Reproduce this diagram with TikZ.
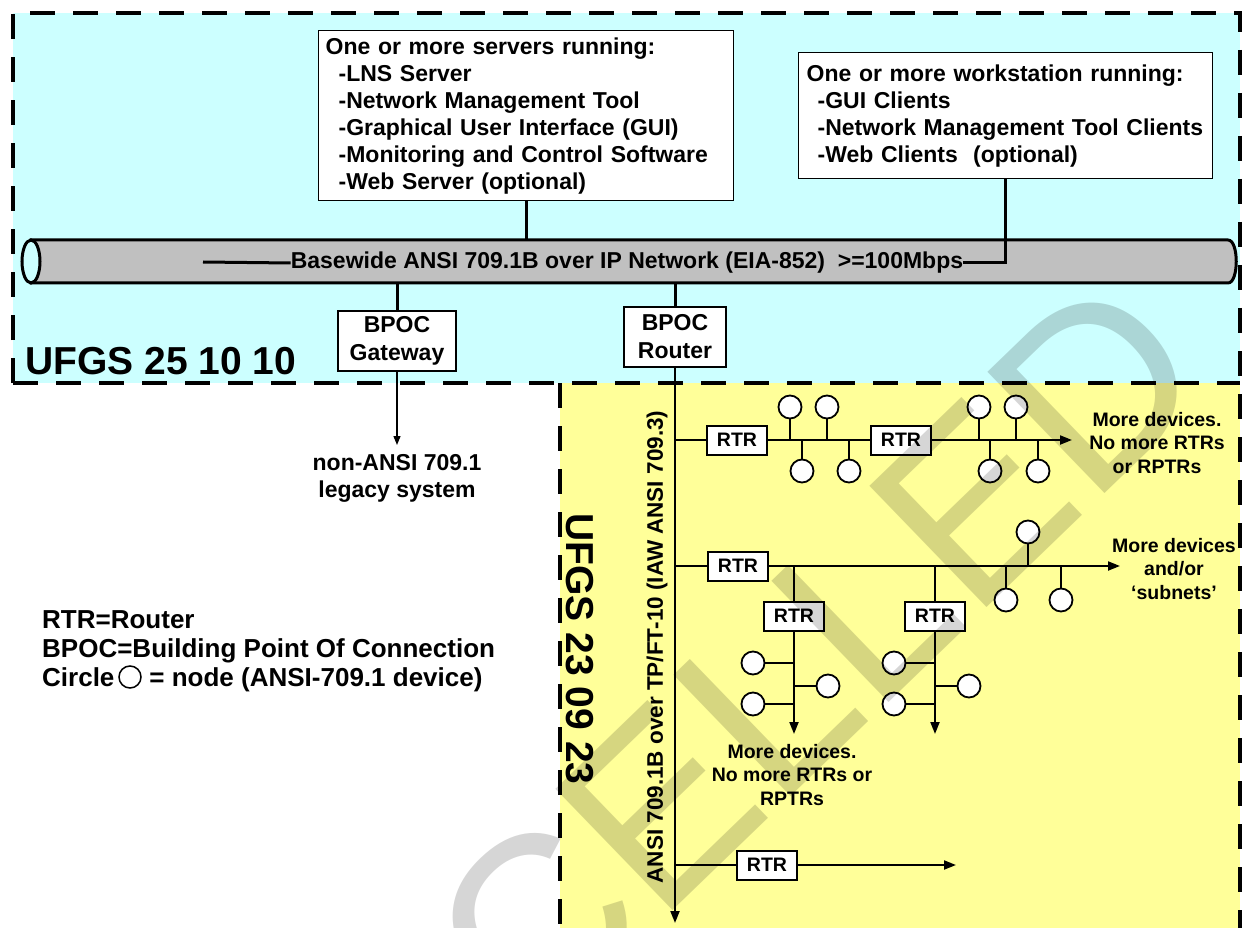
\documentclass[tikz,border=0pt]{standalone}
\usepackage{fontspec}
\setmainfont{Liberation Sans}
\usetikzlibrary{arrows.meta}
\definecolor{cyanbg}{RGB}{204,255,255}
\definecolor{yellowbg}{RGB}{255,255,153}
\definecolor{cylgray}{RGB}{192,192,192}
\begin{document}
\begin{tikzpicture}[x=1pt,y=-1pt,
  ftxt/.style={font=\fontsize{23}{27}\selectfont\bfseries},
  fsmall/.style={font=\fontsize{19.5}{23.5}\selectfont\bfseries},
  lbox/.style={draw, line width=1.3pt, fill=white, align=left, anchor=north west, inner ysep=0pt, ftxt},
  bpoc/.style={draw, line width=1.5pt, fill=white, align=center, minimum height=60pt, inner sep=0pt, font=\fontsize{23}{28}\selectfont\bfseries},
  rtr/.style={draw, line width=2pt, fill=white, minimum width=60pt, minimum height=29pt, inner sep=0pt, fsmall},
  dev/.style={circle, draw, line width=1.8pt, fill=white, minimum size=23pt, inner sep=0pt},
  bord/.style={line width=4.5pt, dash pattern=on 25pt off 18pt},
  thickln/.style={line width=3pt},
  ln/.style={line width=2pt},
  arr/.style={-{Triangle[length=12pt,width=9pt]}},
  sarr/.style={-{Triangle[length=9pt,width=7pt]}},
]
\useasboundingbox (0,0) rectangle (1243,928);
\clip (0,0) rectangle (1243,928);
\fill[white] (0,0) rectangle (1243,928);

% regions
\fill[cyanbg] (13,13) rectangle (1240,383);
\fill[yellowbg] (560,383) rectangle (1240,928);
\draw[bord] (13,383) -- (13,13) -- (1240,13) -- (1240,928);
\draw[bord] (13,383) -- (1240,383);
\draw[bord] (560,383) -- (560,928);

% labels of the regions
\node[font=\fontsize{39}{39}\selectfont\bfseries, anchor=west, inner sep=0pt] (ufgsA) at (25,361) {UFGS 25 10 10};
\node[font=\fontsize{39}{39}\selectfont\bfseries, rotate=-90, inner sep=0pt] (ufgsB) at (580,649) {UFGS 23 09 23};

% backbone cylinder
\draw[thickln, fill=cylgray] (31,240) -- (1228,240) .. controls (1239,240) and (1239,283) .. (1228,283) -- (31,283) -- cycle;
\draw[thickln, fill=cyanbg] (31,261.5) ellipse [x radius=9, y radius=21.5];
\node[ftxt, inner sep=0pt] (net) at (627,263) {Basewide ANSI 709.1B over IP Network (EIA-852)~ >=100Mbps};
\coordinate (netw) at (203,262);

% servers and workstations
\node[lbox, text width=401pt, inner xsep=7pt, minimum height=170pt] (srv) at (318,30)
 {One or more servers running:\\
  \hspace*{13pt}-LNS Server\\
  \hspace*{13pt}-Network Management Tool\\
  \hspace*{13pt}-Graphical User Interface (GUI)\\
  \hspace*{13pt}-Monitoring and Control Software\\
  \hspace*{13pt}-Web Server (optional)};
\node[lbox, text width=398pt, inner xsep=8pt, minimum height=126pt] (ws) at (798,52)
 {One or more workstation running:\\
  \hspace*{11pt}-GUI Clients\\
  \hspace*{11pt}-Network Management Tool Clients\\
  \hspace*{11pt}-Web Clients~ (optional)};

\draw[thickln] (netw) -- (net.west);
\draw[thickln] (net.east) -| (ws.south);
\draw[thickln] (srv.south) -- ++(0,40);

% BPOC boxes
\node[bpoc, minimum width=118pt] (gw) at (397,341) {BPOC\\Gateway};
\node[bpoc, minimum width=102pt] (rt) at (675,337) {BPOC\\Router};
\draw[thickln] (gw.north) -- ++(0,-28);
\draw[thickln] (rt.north) -- ++(0,-24);

\coordinate (legtip) at (397,445);
\draw[line width=1.3pt, sarr] (gw.south) -- (legtip);
\node[ftxt, align=center, inner sep=0pt] (legacy) at (397,478) {non-ANSI 709.1\\legacy system};

% legend
\node[anchor=west, align=left, inner sep=0pt, font=\fontsize{26}{29}\selectfont\bfseries] (legend) at (42,651)
 {RTR=Router\\BPOC=Building Point Of Connection\\Circle\hspace{35pt}= node (ANSI-709.1 device)};
\node[dev, minimum size=22pt, line width=1.5pt] (legc) at (130,677) {};

% TP/FT-10 bus
\coordinate (busend) at (675,923);
\draw[ln, arr] (rt.south) -- (busend);
\node[rotate=90, font=\fontsize{22.5}{27}\selectfont\bfseries, inner sep=0pt] (bustxt) at (657,647) {ANSI 709.1B over TP/FT-10 (IAW ANSI 709.3)};

% branch 1
\coordinate (b1) at (675,440);
\node[rtr] (r1) at (737,440) {RTR};
\node[rtr] (r2) at (901,440) {RTR};
\coordinate (b1end) at (1072,440);
\draw[ln] (b1) -- (r1.west);
\draw[ln] (r1.east) -- (r2.west);
\draw[ln, arr] (r2.east) -- (b1end);
\foreach \n/\x/\y in {d1/790/407, d2/827/407, d3/802/471, d4/849/471, d5/979/407, d6/1016/407, d7/990/471, d8/1038/471}
 { \node[dev] (\n) at (\x,\y) {}; \draw[ln] (\n) -- (\n |- b1); }
\node[fsmall, align=center, inner sep=0pt] (t1) at (1157,443) {More devices.\\No more RTRs\\or RPTRs};

% branch 2
\coordinate (b2) at (675,566);
\node[rtr] (r3) at (738,566) {RTR};
\coordinate (b2end) at (1120,566);
\draw[ln] (b2) -- (r3.west);
\draw[ln, arr] (r3.east) -- (b2end);
\foreach \n/\x/\y in {e1/1028/532, e2/1006/600, e3/1061/600}
 { \node[dev] (\n) at (\x,\y) {}; \draw[ln] (\n) -- (\n |- b2); }
\node[fsmall, align=center, inner sep=0pt] (t2) at (1174,569) {More devices\\and/or\\‘subnets’};

\node[rtr] (r4) at (794,616) {RTR};
\node[rtr] (r5) at (935,616) {RTR};
\draw[ln] (r4.north) -- (r4.north |- b2);
\draw[ln] (r5.north) -- (r5.north |- b2);
\coordinate (s1end) at (794,734);
\coordinate (s2end) at (935,734);
\draw[ln, arr] (r4.south) -- (s1end);
\draw[ln, arr] (r5.south) -- (s2end);
\foreach \n/\x/\y in {f1/753/663, f2/753/704, f3/828/686}
 { \node[dev] (\n) at (\x,\y) {}; \draw[ln] (\n) -- (\n -| r4); }
\foreach \n/\x/\y in {g1/894/663, g2/894/704, g3/969/686}
 { \node[dev] (\n) at (\x,\y) {}; \draw[ln] (\n) -- (\n -| r5); }
\node[fsmall, align=center, inner sep=0pt] (t3) at (792,775) {More devices.\\No more RTRs or\\RPTRs};

% branch 3
\coordinate (b3) at (675,865);
\node[rtr] (r6) at (767,865) {RTR};
\coordinate (b3end) at (956,865);
\draw[ln] (b3) -- (r6.west);
\draw[ln, arr] (r6.east) -- (b3end);

% watermark
\node[rotate=44, opacity=0.16, font=\fontsize{245}{245}\selectfont, inner sep=0pt] (wm) at (630,835) {CANCELLED};
\end{tikzpicture}
\end{document}
